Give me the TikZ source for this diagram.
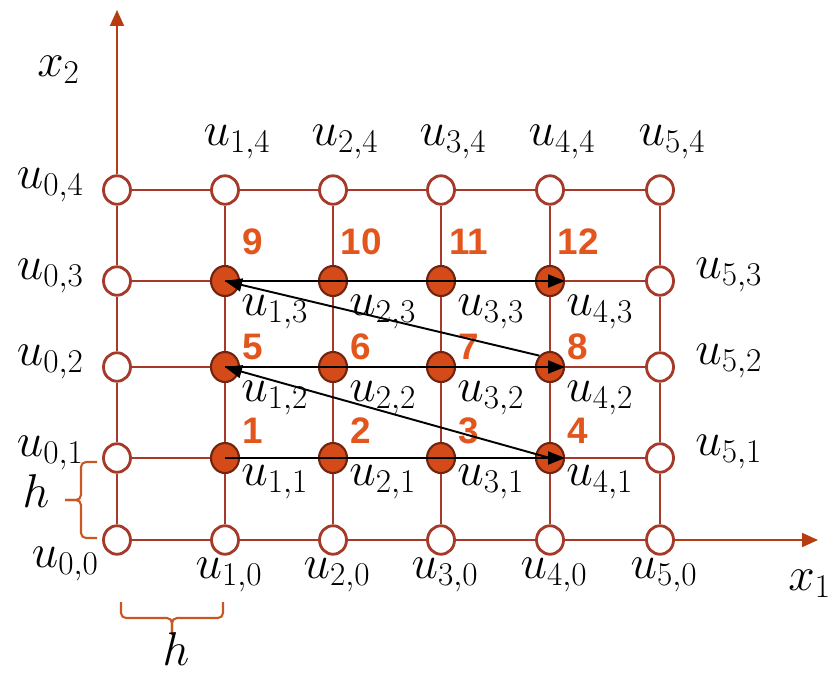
\RequirePackage{fix-cm}
\documentclass[tikz,border=0pt]{standalone}
\usepackage{amsmath}
\usepackage{fontspec}
\usepackage{tikz}
\usetikzlibrary{arrows.meta, shapes.geometric, positioning, calc, decorations.pathreplacing}
\newfontfamily\numfont{Liberation Sans}
\definecolor{gridcol}{RGB}{165, 58, 42}
\definecolor{axiscol}{RGB}{184, 60, 18}
\definecolor{fillcol}{RGB}{212, 74, 25}
\definecolor{rimcol}{RGB}{110, 36, 16}
\definecolor{numcol}{RGB}{226, 86, 30}
\definecolor{bracecol}{RGB}{200, 88, 34}

\begin{document}
\begin{tikzpicture}[
    x=0.02cm, y=-0.02cm,
    opennode/.style={ellipse, draw=gridcol, fill=white, line width=1.6pt,
                     minimum width=0.54cm, minimum height=0.57cm, inner sep=0pt},
    solidnode/.style={ellipse, draw=rimcol, fill=fillcol, line width=1.2pt,
                      minimum width=0.56cm, minimum height=0.6cm, inner sep=0pt},
    gline/.style={draw=gridcol, line width=1.5pt},
    axisarr/.style={draw=axiscol, line width=1.1pt, -{Triangle[length=0.32cm, width=0.28cm]}},
    arr/.style={draw=black, line width=1.1pt, -{Triangle[length=0.34cm, width=0.26cm]}},
    ulab/.style={inner sep=0pt, font=\fontsize{27}{30}\selectfont},
    numlab/.style={inner sep=0pt, text=numcol, font=\fontsize{21}{24}\selectfont\numfont\bfseries},
    hbrace/.style={draw=bracecol, line width=1.2pt, rounded corners=0.1cm}
  ]
  \useasboundingbox (0,0) rectangle (830,673);

  % Grid points
  \foreach \i/\x in {0/117,1/225,2/333,3/441,4/550,5/660}
    \foreach \j/\y in {0/540,1/458,2/367,3/281,4/190}
      \coordinate (p-\i-\j) at (\x,\y);

  % Nodes
  \foreach \i in {0,...,5} {
    \node[opennode] (u-\i-0) at (p-\i-0) {};
    \node[opennode] (u-\i-4) at (p-\i-4) {};
  }
  \foreach \j in {1,2,3} {
    \node[opennode] (u-0-\j) at (p-0-\j) {};
    \node[opennode] (u-5-\j) at (p-5-\j) {};
    \foreach \i in {1,...,4}
      \node[solidnode] (u-\i-\j) at (p-\i-\j) {};
  }

  % Grid lines
  \foreach \i in {0,...,4}
    \foreach \j in {0,...,4} {
      \pgfmathtruncatemacro{\k}{\i+1}
      \draw[gline] (u-\i-\j) -- (u-\k-\j);
    }
  \foreach \i in {0,...,5}
    \foreach \j in {0,...,3} {
      \pgfmathtruncatemacro{\k}{\j+1}
      \draw[gline] (u-\i-\j) -- (u-\i-\k);
    }

  % Axes
  \coordinate (x1end) at (818,540);
  \coordinate (x2end) at (117,10);
  \draw[axisarr] (u-5-0) -- (x1end);
  \draw[axisarr] (u-0-4) -- (x2end);
  \node[ulab, anchor=base west] (x1lab) at (788,590) {$x_1$};
  \node[ulab, anchor=base west] (x2lab) at (37,76) {$x_2$};

  % Labels
  \foreach \i in {1,...,5} {
    \node[ulab, anchor=base] (l-\i-4) at ($(p-\i-4)+(12,-45)$) {$u_{\i,4}$};
    \node[ulab, anchor=base] (l-\i-0) at ($(p-\i-0)+(4,38)$) {$u_{\i,0}$};
  }
  \node[ulab, anchor=base east] (l-0-0) at ($(p-0-0)+(-18,27)$) {$u_{0,0}$};
  \foreach \j in {1,...,4}
    \node[ulab, anchor=base east] (l-0-\j) at ($(p-0-\j)+(-33,-2)$) {$u_{0,\j}$};
  \foreach \j in {1,2,3}
    \node[ulab, anchor=base west] (l-5-\j) at ($(p-5-\j)+(35,-3)$) {$u_{5,\j}$};
  \foreach \i in {1,...,4}
    \foreach \j/\dy/\ny in {1/7/-15, 2/14/-8, 3/14/-27} {
      \node[ulab, anchor=north west] (l-\i-\j) at ($(p-\i-\j)+(16,\dy)$) {$u_{\i,\j}$};
      \pgfmathtruncatemacro{\num}{4*(\j-1)+\i}
      \node[numlab, anchor=base] (n-\i-\j) at ($(p-\i-\j)+(28,\ny)$) {\num};
    }

  % Ordering arrows
  \draw[arr] (u-1-1.center) -- (u-4-1.east);
  \draw[arr] (u-4-1.center) -- (u-1-2.center);
  \draw[arr] (u-1-2.center) -- (u-4-2.east);
  \draw[arr] (u-4-2.north west) -- (u-1-3.center);
  \draw[arr] (u-1-3.center) -- (u-4-3.east);

  % Step size braces
  \coordinate (bl-a) at (97,538);
  \coordinate (bl-b) at (97,462);
  \coordinate (bl-m) at (81,500);
  \draw[hbrace] (bl-b) -| (bl-m) -- ++(-16,0);
  \draw[hbrace] (bl-a) -| (bl-m) -- ++(-16,0);
  \node[ulab] (hleft) at (36,491) {$h$};
  \coordinate (bb-a) at (223,602);
  \coordinate (bb-b) at (121,602);
  \coordinate (bb-m) at (172,618);
  \draw[hbrace] (bb-b) |- (bb-m) -- ++(0,17);
  \draw[hbrace] (bb-a) |- (bb-m) -- ++(0,17);
  \node[ulab] (hbottom) at (176,649) {$h$};
\end{tikzpicture}
\end{document}
